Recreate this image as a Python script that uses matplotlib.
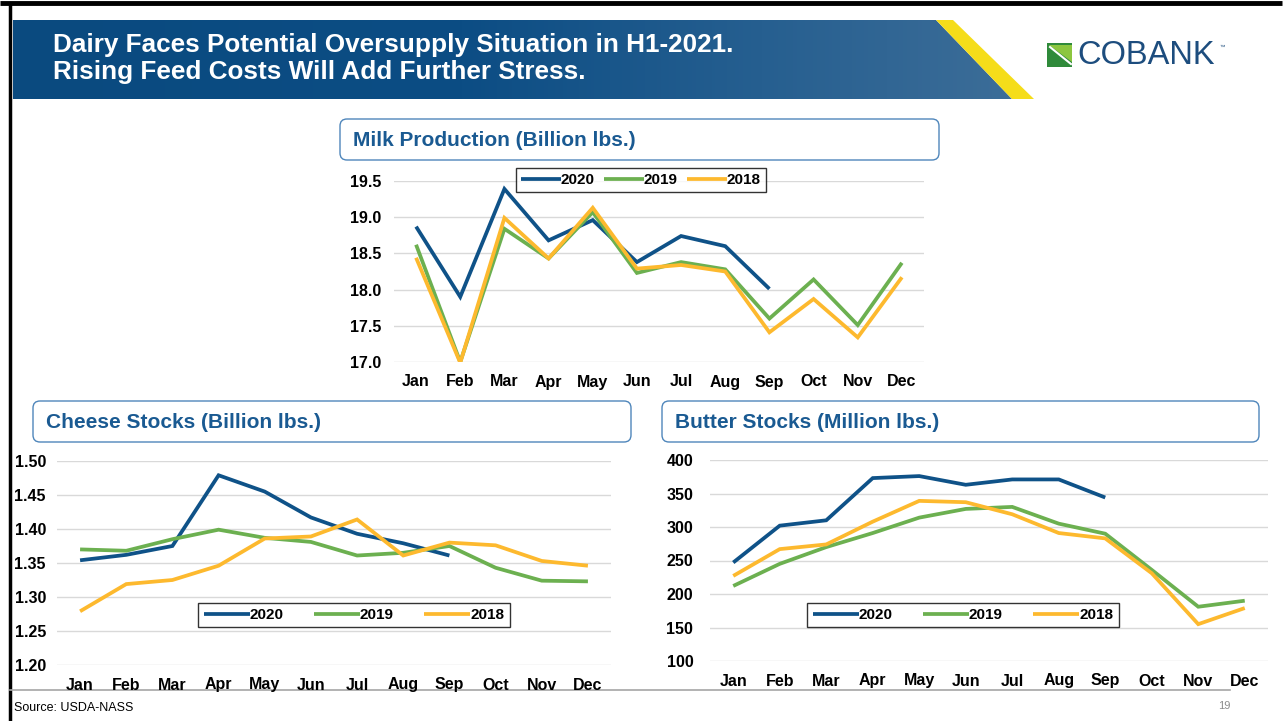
import numpy as np
import matplotlib
matplotlib.use("Agg")
import matplotlib.pyplot as plt
from matplotlib.patches import Polygon, FancyBboxPatch
from matplotlib.colors import LinearSegmentedColormap

plt.rcParams["font.family"] = ["Liberation Sans", "DejaVu Sans"]

W, H = 1285, 721

# ── Data ─────────────────────────────────────────────────────────────────────
MONTHS = ["Jan", "Feb", "Mar", "Apr", "May", "Jun",
          "Jul", "Aug", "Sep", "Oct", "Nov", "Dec"]
YEARS = ["2020", "2019", "2018"]

milk_2020 = [18.87, 17.90, 19.39, 18.68, 18.96, 18.38, 18.74, 18.60, 18.01]
milk_2019 = [18.62, 17.00, 18.84, 18.43, 19.07, 18.23, 18.38, 18.28, 17.60, 18.14, 17.51, 18.37]
milk_2018 = [18.44, 16.99, 18.99, 18.43, 19.13, 18.29, 18.34, 18.25, 17.41, 17.87, 17.34, 18.17]

cheese_2020 = [1.354, 1.362, 1.375, 1.479, 1.455, 1.417, 1.393, 1.379, 1.361]
cheese_2019 = [1.370, 1.368, 1.385, 1.399, 1.387, 1.381, 1.361, 1.365, 1.375, 1.343, 1.324, 1.323]
cheese_2018 = [1.279, 1.319, 1.325, 1.346, 1.386, 1.389, 1.414, 1.361, 1.380, 1.376, 1.353, 1.346]

butter_2020 = [247, 302, 310, 373, 376, 363, 371, 371, 344]
butter_2019 = [212, 245, 270, 291, 314, 327, 330, 305, 290, 236, 181, 190]
butter_2018 = [227, 267, 274, 308, 339, 337, 319, 291, 283, 231, 155, 179]

COLORS = {"2020": "#0f5288", "2019": "#6cb050", "2018": "#fdb92e"}
TITLE_BLUE = "#1a5a92"


def px_box(x0, y0, x1, y1):
    return [x0 / W, 1 - y1 / H, (x1 - x0) / W, (y1 - y0) / H]


fig = plt.figure(figsize=(W / 100, H / 100), dpi=100)

# overlay in pixel coordinates for banner, frames, boxes
bg = fig.add_axes([0, 0, 1, 1], zorder=0)
bg.set_xlim(0, W)
bg.set_ylim(H, 0)
bg.axis("off")

# slide border
bg.plot([0, 1282], [3, 3], color="black", lw=3.5, solid_capstyle="butt")
bg.plot([10, 10], [3, H], color="black", lw=2.5, solid_capstyle="butt")

# header banner with gradient
banner = Polygon([(13, 20), (936, 20), (1012, 99), (13, 99)], closed=True,
                 facecolor="none", edgecolor="none")
bg.add_patch(banner)
cmap = LinearSegmentedColormap.from_list(
    "band", [(0, "#0a4a7f"), (0.45, "#0c4d84"), (0.75, "#265f90"), (1, "#3c6d98")])
grad = np.linspace(0, 1, 256).reshape(1, -1)
im = bg.imshow(grad, cmap=cmap, extent=(13, 1012, 99, 20), aspect="auto", zorder=1)
im.set_clip_path(banner)
bg.add_patch(Polygon([(936, 20), (953, 20), (1034, 99), (1012, 99)], closed=True,
                     facecolor="#f5dd1a", edgecolor="none", zorder=2))
bg.text(53, 45, "Dairy Faces Potential Oversupply Situation in H1-2021.",
        color="white", fontsize=18.8, fontweight="bold", va="center", ha="left", zorder=3)
bg.text(53, 72, "Rising Feed Costs Will Add Further Stress.",
        color="white", fontsize=18.8, fontweight="bold", va="center", ha="left", zorder=3)

# logo
bg.add_patch(Polygon([(1047, 43), (1072, 43), (1072, 67), (1047, 67)], closed=True,
                     facecolor="#2f8a3a", edgecolor="none", zorder=2))
bg.add_patch(Polygon([(1049, 45), (1072, 45), (1072, 62)], closed=True,
                     facecolor="#8cc63f", edgecolor="none", zorder=3))
bg.plot([1050, 1071], [47, 64], color="white", lw=1.5, zorder=4)
bg.text(1077, 56, "COBANK", color="#1d4d7e", fontsize=23.5, va="center", ha="left", zorder=3)
bg.text(1219, 47, "\u2122", color="#1d4d7e", fontsize=4, va="center", ha="left", zorder=3)

# chart title boxes
for (x0, y0, x1, y1, label) in [
    (340, 119, 939, 160, "Milk Production (Billion lbs.)"),
    (33, 401, 631, 442, "Cheese Stocks (Billion lbs.)"),
    (662, 401, 1259, 442, "Butter Stocks (Million lbs.)"),
]:
    bg.add_patch(FancyBboxPatch((x0, y0), x1 - x0, y1 - y0,
                                boxstyle="round,pad=0,rounding_size=7",
                                facecolor="white", edgecolor="#4f86bb", lw=1.0, zorder=2))
    bg.text(x0 + 13, (y0 + y1) / 2 + 1, label, color=TITLE_BLUE, fontsize=15,
            fontweight="bold", va="center", ha="left", zorder=3)

# footer
bg.plot([10, 1230], [690, 690], color="#a6a6a6", lw=1.2)
bg.text(14, 708, "Source: USDA-NASS", fontsize=9, va="center", ha="left", color="black")
bg.text(1218, 706, "19", fontsize=8, va="center", ha="left", color="#8c8c8c")


def line_chart(box, series, ylim, yticks, fmt, ypad, leg_center, colspace, handlelen):
    ax = fig.add_axes(px_box(*box), zorder=2)
    ax.patch.set_alpha(0)
    x = np.arange(len(MONTHS))
    for year, vals in zip(YEARS, series):
        ax.plot(x[:len(vals)], vals, color=COLORS[year], lw=2.7, label=year,
                solid_joinstyle="miter", solid_capstyle="butt")
    ax.set_xlim(-0.5, len(MONTHS) - 0.5)
    ax.set_ylim(*ylim)
    ax.set_yticks(yticks)
    ax.set_yticklabels([fmt.format(v) for v in yticks])
    ax.set_xticks(x)
    ax.set_xticklabels(MONTHS)
    ax.grid(axis="y", color="#d9d9d9", lw=1.0)
    ax.set_axisbelow(True)
    for s in ax.spines.values():
        s.set_visible(False)
    ax.tick_params(axis="both", length=0, labelsize=11.5)
    ax.tick_params(axis="x", pad=9)
    ax.tick_params(axis="y", pad=ypad)
    for lab in ax.get_xticklabels() + ax.get_yticklabels():
        lab.set_fontweight("bold")
    cx, cy = leg_center
    leg = ax.legend(loc="center", bbox_to_anchor=(cx / W, 1 - cy / H),
                    bbox_transform=fig.transFigure, ncol=3, frameon=True,
                    fancybox=False, handlelength=handlelen,
                    handletextpad=0.0, columnspacing=colspace,
                    borderpad=0.35, prop={"weight": "bold", "size": 11})
    leg.get_frame().set_edgecolor("black")
    leg.get_frame().set_linewidth(1.0)
    leg.get_frame().set_facecolor("white")
    return ax


line_chart((394, 181, 924, 362), [milk_2020, milk_2019, milk_2018],
           (17.0, 19.5), [17.0, 17.5, 18.0, 18.5, 19.0, 19.5], "{:.1f}",
           9, (641, 180), 0.6, 2.6)
line_chart((57, 461, 611, 665), [cheese_2020, cheese_2019, cheese_2018],
           (1.20, 1.50), [1.20, 1.25, 1.30, 1.35, 1.40, 1.45, 1.50], "{:.2f}",
           8, (354, 615), 2.0, 3.0)
line_chart((710, 460, 1268, 661), [butter_2020, butter_2019, butter_2018],
           (100, 400), [100, 150, 200, 250, 300, 350, 400], "{:.0f}",
           12, (963, 615), 2.0, 3.0)

fig.savefig("out.png", dpi=100)
